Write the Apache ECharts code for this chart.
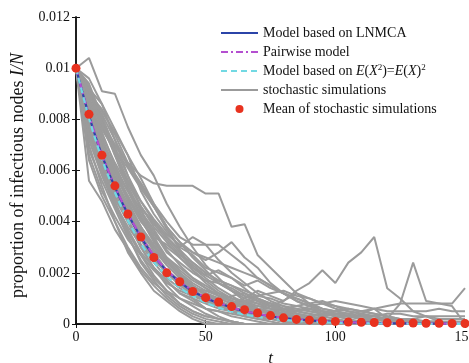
<!DOCTYPE html>
<html style="height: 100%">
<head>
<meta charset="utf-8">
<script src="https://cdn.jsdelivr.net/npm/echarts/dist/echarts.min.js"></script>
</head>
<body style="height: 100%; margin: 0; background: #fff">
<div id="chart" style="width: 469px; height: 363px;"></div>
<script type="text/javascript">
// population size, values below are infected counts I
var N = 10000;
var tSteps = [0,5,10,15,20,25,30,35,40,45,50,55,60,65,70,75,80,85,90,95,100,105,110,115,120,125,130,135,140,145,150];
var xTicks = [0, 50, 100, 150];
var yTicks = [0, 0.002, 0.004, 0.006, 0.008, 0.01, 0.012];

var meanSim  = [100,82,66,54,43,34,26,20,16.5,12.7,10.3,8.6,6.8,5.6,4.3,3.3,2.4,1.8,1.5,1.2,1.0,0.8,0.7,0.6,0.5,0.4,0.4,0.3,0.3,0.2,0.2];
var lnmca    = [100,81.5,66,53.5,43,34,26.5,20.8,16.5,12.8,10.2,8.2,6.4,5.0,3.9,3.0,2.3,1.8,1.4,1.1,0.85,0.65,0.5,0.4,0.3,0.25,0.2,0.15,0.12,0.1,0.08];
var pairwise = [100,81.7,66.3,53.8,43.3,34.3,26.8,21,16.7,13,10.4,8.3,6.5,5.1,4.0,3.1,2.4,1.85,1.45,1.1,0.87,0.67,0.52,0.41,0.32,0.25,0.2,0.15,0.12,0.1,0.08];
var closure  = [100,80.5,64.5,51.5,40.5,31.5,24.3,18.7,14.3,11,8.4,6.4,4.9,3.7,2.8,2.1,1.6,1.2,0.9,0.7,0.5,0.4,0.3,0.22,0.17,0.13,0.1,0.07,0.05,0.04,0.03];

// stochastic runs
var simRuns = [
  [100,104,91,90,77,66,58,47,38,30,23,18,13,9,6,4,3,2,1,0,0,0,0,0,0,0,0,0,0,0,0],
  [100,56,48,37,29,21,15,10,6,3,1,0,0,0,0,0,0,0,0,0,0,0,0,0,0,0,0,0,0,0,0],
  [100,88,79,70,63,58,55,54,54,54,51,51,38,39,27,22,17,12,8,5,3,2,1,1,0,0,0,0,0,0,0],
  [100,86,72,60,50,41,33,25,20,15,12,9,7,10,13,11,9,13,16,21,16,24,28,34,14,10,5,3,1,0,0],
  [100,80,64,50,40,30,22,17,12,10,8,6,5,4,3,4,3,5,6,4,3,2,4,6,2,8,24,9,8,8,14],
  [100,78,62,48,36,27,19,13,8,5,3,2,1,0,0,0,0,0,0,0,0,0,0,0,0,0,0,0,0,0,0],
  [100,84,70,58,49,40,34,31,27,24,20,17,15,12,9,7,5,4,3,2,1,1,0,0,0,0,0,0,0,0,0],
  [100,92,80,66,55,46,38,32,26,21,17,13,10,8,6,4,3,2,1,1,0,0,0,0,0,0,0,0,0,0,0],
  [100,72,58,46,37,28,22,17,12,9,6,5,3,2,1,0,0,0,0,0,0,0,0,0,0,0,0,0,0,0,0],
  [100,85,75,62,52,43,36,28,24,20,17,16,14,11,9,7,5,4,3,2,1,0,0,0,0,0,0,0,0,0,0],
  [100,90,84,74,63,55,47,40,34,31,31,25,20,16,12,9,7,5,4,3,2,1,0,0,0,0,0,0,0,0,0],
  [100,76,60,49,40,33,25,20,15,12,10,8,6,8,10,8,6,4,3,2,1,0,0,0,0,0,0,0,0,0,0],
  [100,82,68,55,44,36,29,23,18,13,10,7,5,3,2,1,0,0,0,0,0,0,0,0,0,0,0,0,0,0,0],
  [100,88,73,60,48,38,28,21,16,10,6,3,1,0,0,0,0,0,0,0,0,0,0,0,0,0,0,0,0,0,0],
  [100,70,54,40,28,20,13,9,5,2,0,0,0,0,0,0,0,0,0,0,0,0,0,0,0,0,0,0,0,0,0],
  [100,92,86,76,66,52,43,36,30,27,22,20,18,15,17,14,12,10,8,6,5,4,3,2,1,0,0,0,0,0,0],
  [100,80,65,52,41,31,24,18,14,11,9,8,7,9,11,12,13,11,10,8,7,6,5,4,3,2,1,0,0,0,0],
  [100,86,71,57,45,35,27,20,16,12,9,7,6,4,3,2,1,1,0,0,0,0,0,0,0,0,0,0,0,0,0],
  [100,64,50,40,30,22,16,12,8,5,3,2,1,0,0,0,0,0,0,0,0,0,0,0,0,0,0,0,0,0,0],
  [100,94,81,69,58,48,40,34,28,22,18,14,11,8,6,5,4,3,2,2,1,1,0,0,0,0,0,0,0,0,0],
  [100,79,66,57,47,38,30,23,18,14,12,10,8,6,5,4,4,5,7,8,9,8,7,6,7,8,8,8,8,7,0],
  [100,83,67,52,40,30,22,15,10,7,4,2,1,0,0,0,0,0,0,0,0,0,0,0,0,0,0,0,0,0,0],
  [100,88,77,67,56,48,41,35,31,28,26,24,22,20,18,15,12,9,7,5,4,3,2,2,1,0,0,0,0,0,0],
  [100,75,62,51,43,35,30,26,22,18,15,12,10,9,7,6,5,5,6,5,4,4,5,6,5,5,5,5,6,5,5],
  [100,90,78,66,53,42,33,25,19,15,11,9,7,5,4,3,2,1,0,0,0,0,0,0,0,0,0,0,0,0,0],
  [100,81,70,60,52,45,40,34,29,24,20,17,15,13,11,10,8,7,6,5,4,3,3,3,2,2,2,3,3,3,3],
  [100,86,76,68,61,53,46,38,32,26,21,16,13,10,8,6,4,3,2,1,1,0,0,0,0,0,0,0,0,0,0],
  [100,68,56,45,34,25,18,13,10,8,6,5,4,3,3,2,1,1,0,0,0,0,0,0,0,0,0,0,0,0,0],
  [100,91,79,70,62,55,46,37,30,34,31,31,27,23,18,15,12,10,8,6,5,4,3,2,1,0,0,0,0,0,0],
  [100,84,72,61,52,42,35,30,26,22,19,21,18,14,10,8,6,5,4,3,2,1,1,0,0,0,0,0,0,0,0],
  [100,77,61,47,35,24,17,11,7,4,2,1,0,0,0,0,0,0,0,0,0,0,0,0,0,0,0,0,0,0,0],
  [100,89,82,72,62,54,46,38,32,28,25,28,32,26,22,16,12,9,7,5,4,3,2,1,0,0,0,0,0,0,0],
  [100,96,86,72,58,45,34,26,21,17,14,11,9,7,6,5,4,3,2,1,1,0,0,0,0,0,0,0,0,0,0],
  [100,82,67,53,42,34,27,21,16,12,9,7,5,4,5,7,9,12,10,8,6,5,4,3,2,1,1,0,0,0,0],
  [100,73,63,54,46,38,31,24,19,15,12,10,8,7,6,5,4,3,3,4,5,6,5,4,3,2,2,1,1,0,0],
  [100,87,74,63,54,44,37,29,23,18,14,11,9,7,5,4,3,3,2,3,4,3,2,2,1,1,0,0,0,0,0],
  [100,79,68,59,50,41,32,25,19,14,10,9,11,12,10,7,5,3,2,1,0,0,0,0,0,0,0,0,0,0,0],
  [100,91,83,75,66,57,47,38,29,21,16,12,9,6,4,3,2,2,1,1,0,0,0,0,0,0,0,0,0,0,0],
  [100,74,59,47,38,31,26,21,17,14,13,12,10,9,8,7,6,6,5,4,4,3,3,3,4,4,3,3,2,2,2],
  [100,85,69,56,45,37,30,25,20,16,13,11,9,8,7,6,6,7,8,9,7,5,4,3,2,2,1,1,0,0,0],
  [100,66,52,42,33,27,21,16,13,11,9,7,5,3,2,2,1,0,0,0,0,0,0,0,0,0,0,0,0,0,0],
  [100,93,81,68,56,46,39,33,27,23,19,16,13,11,9,8,7,6,5,4,3,3,2,2,2,1,1,1,1,1,1]
];

var nameLnmca = 'Model based on LNMCA';
var namePair = 'Pairwise model';
var nameClosure = 'Model based on E(X2)=E(X)2';
var nameSim = 'stochastic simulations';
var nameMean = 'Mean of stochastic simulations';

var serif = 'Liberation Serif';

function toPoints(arr) {
    return arr.map(function (c, i) { return [tSteps[i], c / N]; });
}

var dom = document.getElementById('chart');
var myChart = echarts.init(dom, null, {renderer: 'canvas'});

var series = [];
simRuns.forEach(function (run) {
    series.push({
        name: nameSim, type: 'line', data: toPoints(run), symbol: 'none',
        lineStyle: {color: '#9b9b9b', width: 2}, itemStyle: {color: '#9b9b9b'},
        silent: true, z: 1
    });
});
series.push({
    name: nameLnmca, type: 'line', data: toPoints(lnmca), symbol: 'none', smooth: 0.3,
    lineStyle: {color: '#2b44a8', width: 2.2}, itemStyle: {color: '#2b44a8'}, z: 3
});
series.push({
    name: namePair, type: 'line', data: toPoints(pairwise), symbol: 'none', smooth: 0.3,
    lineStyle: {color: '#b44fd0', width: 2.2, type: [7, 3, 2, 3]}, itemStyle: {color: '#b44fd0'}, z: 4
});
series.push({
    name: nameClosure, type: 'line', data: toPoints(closure), symbol: 'none', smooth: 0.3,
    lineStyle: {color: '#72d9e3', width: 2.2, type: [6, 4]}, itemStyle: {color: '#72d9e3'}, z: 5
});
series.push({
    name: nameMean, type: 'scatter', data: toPoints(meanSim), symbol: 'circle', symbolSize: 9,
    itemStyle: {color: '#e8321f', opacity: 1}, z: 6
});

var axisLine = {show: true, lineStyle: {color: '#111', width: 1.5}};
var tickIn = {show: true, inside: true, length: 4, lineStyle: {color: '#111', width: 1}};
var noSymbol = {opacity: 0};

var option = {
    animation: false,
    grid: {left: 76, right: 4, top: 17, bottom: 39, outerBoundsMode: 'none', containLabel: false},
    legend: {
        orient: 'vertical', left: 215, top: 20, itemWidth: 37, itemHeight: 8, itemGap: 3,
        data: [
            {name: nameLnmca, itemStyle: noSymbol},
            {name: namePair, itemStyle: noSymbol},
            {name: nameClosure, itemStyle: noSymbol},
            {name: nameSim, itemStyle: noSymbol},
            {name: nameMean}
        ],
        textStyle: {
            fontFamily: serif, fontSize: 14, color: '#111', lineHeight: 16,
            rich: {
                n: {fontFamily: serif, fontSize: 14, color: '#111', lineHeight: 16},
                i: {fontFamily: serif, fontSize: 14, color: '#111', fontStyle: 'italic', lineHeight: 16},
                sup: {fontFamily: serif, fontSize: 9, color: '#111', lineHeight: 16, verticalAlign: 'top', padding: [0, 0, 6, 0]}
            }
        },
        formatter: function (name) {
            if (name === nameClosure) {
                return '{n|Model based on }{i|E}{n|(}{i|X}{sup|2}{n|)=}{i|E}{n|(}{i|X}{n|)}{sup|2}';
            }
            return '{n|' + name + '}';
        }
    },
    xAxis: [{
        type: 'value', min: xTicks[0], max: xTicks[xTicks.length - 1], interval: 50,
        name: 't', nameLocation: 'middle', nameGap: 26,
        nameTextStyle: {fontFamily: serif, fontSize: 17, fontStyle: 'italic', color: '#111'},
        axisLine: axisLine, axisTick: tickIn, splitLine: {show: false},
        axisLabel: {fontFamily: serif, fontSize: 14, color: '#111', margin: 6}
    }, {
        type: 'value', position: 'top', min: 0, max: 150, interval: 50,
        axisLine: axisLine, axisTick: tickIn, axisLabel: {show: false}, splitLine: {show: false}
    }],
    yAxis: [{
        type: 'value', min: yTicks[0], max: yTicks[yTicks.length - 1], interval: 0.002,
        name: '{n|proportion of infectious nodes }{i|I/N}', nameLocation: 'middle', nameGap: 44,
        nameTextStyle: {
            padding: [0, 10, 0, 0],
            rich: {
                n: {fontFamily: serif, fontSize: 18, color: '#111'},
                i: {fontFamily: serif, fontSize: 18, color: '#111', fontStyle: 'italic'}
            }
        },
        axisLine: axisLine, axisTick: tickIn, splitLine: {show: false},
        axisLabel: {
            fontFamily: serif, fontSize: 14, color: '#111', margin: 6,
            formatter: function (v) { return String(+v.toFixed(3)); }
        }
    }, {
        type: 'value', position: 'right', min: 0, max: 0.012, interval: 0.002,
        axisLine: axisLine, axisTick: tickIn, axisLabel: {show: false}, splitLine: {show: false}
    }],
    series: series
};

myChart.setOption(option, true);
</script>
</body>
</html>
